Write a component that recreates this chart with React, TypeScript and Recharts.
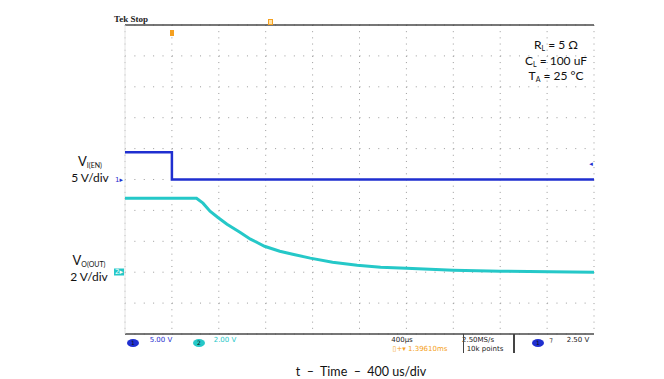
import {
  ComposedChart,
  Line,
  XAxis,
  YAxis,
  CartesianGrid,
  ReferenceLine,
} from "recharts";

// horizontal: 400 us/div, 10 divisions (values in ms)
const timeTicks = [0, 0.4, 0.8, 1.2, 1.6, 2.0, 2.4, 2.8, 3.2, 3.6, 4.0];
// vertical: ch1 5 V/div, 10 divisions, ground at center
const ch1Ticks = [-25, -20, -15, -10, -5, 0, 5, 10, 15, 20, 25];

// CH1  V_I(EN)
const enTime = [0, 0.4, 0.4, 4.0];
const enVolts = [4.4, 4.4, 0, 0];

// CH2  V_O(OUT)
const outTime = [
  0, 0.61, 0.665, 0.725, 0.79, 0.87, 0.98, 1.07, 1.19, 1.32, 1.43, 1.58,
  1.77, 1.98, 2.18, 2.4, 2.8, 3.2, 3.62, 4.0,
];
const outVolts = [
  4.79, 4.79, 4.47, 3.95, 3.56, 3.11, 2.59, 2.14, 1.68, 1.36, 1.16, 0.91,
  0.65, 0.45, 0.32, 0.26, 0.13, 0.06, 0.03, 0.0,
];

const enData = enTime.map((t, i) => ({ t, v: enVolts[i] }));
const outData = outTime.map((t, i) => ({ t, v: outVolts[i] }));

const BLUE = "#1f2fd0";
const CYAN = "#25c8c8";
const ORANGE = "#f5a020";
const FRAME = "#4a4a4a";

const Txt = ({
  x,
  y,
  children,
  style,
}: {
  x: number;
  y: number;
  children: React.ReactNode;
  style?: React.CSSProperties;
}) => (
  <div
    style={{
      position: "absolute",
      left: x,
      top: y,
      transform: "translate(-50%, -50%)",
      whiteSpace: "nowrap",
      lineHeight: 1,
      ...style,
    }}
  >
    {children}
  </div>
);

const note: React.CSSProperties = {
  fontFamily: "Lato, 'Open Sans', sans-serif",
  fontSize: 12,
  color: "#111",
};
const sub: React.CSSProperties = { fontSize: 7, verticalAlign: -2 };
const small: React.CSSProperties = {
  fontFamily: "'DejaVu Sans', sans-serif",
  fontSize: 7,
};

const Badge = ({ n, bg }: { n: string; bg: string }) => (
  <span
    style={{
      display: "inline-block",
      width: 12,
      height: 8,
      borderRadius: "50%",
      background: bg,
      color: "#111",
      fontSize: 6,
      textAlign: "center",
      lineHeight: "8px",
      fontFamily: "'DejaVu Sans', sans-serif",
    }}
  >
    {n}
  </span>
);

export default function App() {
  return (
    <div
      style={{
        position: "absolute",
        left: 0,
        top: 0,
        width: 664,
        height: 379,
        background: "#fff",
      }}
    >
      <ComposedChart
        width={664}
        height={379}
        margin={{ top: 25, right: 70, bottom: 45, left: 125 }}
      >
        <XAxis
          xAxisId="main"
          dataKey="t"
          type="number"
          domain={[0, 4]}
          ticks={timeTicks}
          hide
        />
        <YAxis
          yAxisId="ch1"
          type="number"
          domain={[-25, 25]}
          ticks={ch1Ticks}
          hide
        />
        <YAxis yAxisId="ch2" type="number" domain={[-4, 16]} hide />

        {/* dotted scope graticule, 5 dots per division */}
        <CartesianGrid
          xAxisId="main"
          yAxisId="ch1"
          vertical={false}
          stroke="#9a9a9a"
          strokeDasharray="1 8.38"
        />
        <CartesianGrid
          xAxisId="main"
          yAxisId="ch1"
          horizontal={false}
          stroke="#9a9a9a"
          strokeDasharray="1 5.18"
        />
        <ReferenceLine
          xAxisId="main"
          yAxisId="ch1"
          y={25}
          stroke={FRAME}
          strokeWidth={1.5}
        />
        <ReferenceLine
          xAxisId="main"
          yAxisId="ch1"
          y={-25}
          stroke={FRAME}
          strokeWidth={1.5}
        />
        <ReferenceLine
          xAxisId="main"
          yAxisId="ch1"
          x={0}
          stroke="#e4e4e4"
          strokeWidth={1}
        />

        <Line
          data={outData}
          xAxisId="main"
          yAxisId="ch2"
          dataKey="v"
          type="linear"
          stroke={CYAN}
          strokeWidth={3}
          dot={false}
          isAnimationActive={false}
        />
        <Line
          data={enData}
          xAxisId="main"
          yAxisId="ch1"
          dataKey="v"
          type="linear"
          stroke={BLUE}
          strokeWidth={2.5}
          dot={false}
          isAnimationActive={false}
        />
      </ComposedChart>

      {/* scope screen decorations */}
      <Txt
        x={131}
        y={19}
        style={{
          fontFamily: "'Liberation Serif', serif",
          fontWeight: "bold",
          fontSize: 9,
          color: "#222",
        }}
      >
        Tek Stop
      </Txt>
      <div
        style={{
          position: "absolute",
          left: 170,
          top: 30,
          width: 4,
          height: 6,
          background: ORANGE,
        }}
      />
      <div
        style={{
          position: "absolute",
          left: 268,
          top: 19,
          width: 3,
          height: 4,
          border: `1px solid ${ORANGE}`,
          background: "#ffe2a8",
        }}
      />

      <Txt x={556} y={45} style={note}>
        R<span style={sub}>L</span> = 5 Ω
      </Txt>
      <Txt x={556} y={61} style={note}>
        C<span style={sub}>L</span> = 100 uF
      </Txt>
      <Txt x={556} y={76} style={note}>
        T<span style={sub}>A</span> = 25 °C
      </Txt>

      <Txt x={90} y={162} style={{ ...note, fontSize: 13 }}>
        V<span style={sub}>I(EN)</span>
      </Txt>
      <Txt x={90} y={178} style={note}>
        5 V/div
      </Txt>
      <Txt x={89} y={261} style={{ ...note, fontSize: 13 }}>
        V<span style={sub}>O(OUT)</span>
      </Txt>
      <Txt x={89} y={277} style={note}>
        2 V/div
      </Txt>

      <Txt x={119} y={180} style={{ ...small, color: BLUE }}>
        1▸
      </Txt>
      <Txt
        x={119}
        y={272}
        style={{ ...small, color: "#fff", background: CYAN, padding: "0 1px" }}
      >
        2▸
      </Txt>
      <Txt x={591} y={164} style={{ ...small, color: BLUE }}>
        ◂
      </Txt>

      {/* status bar */}
      <Txt x={133} y={340}>
        <Badge n="1" bg={BLUE} />
      </Txt>
      <Txt x={161} y={340} style={{ ...small, color: BLUE }}>
        5.00 V
      </Txt>
      <Txt x={199} y={340}>
        <Badge n="2" bg={CYAN} />
      </Txt>
      <Txt x={225} y={340} style={{ ...small, color: CYAN }}>
        2.00 V
      </Txt>
      <Txt x={402} y={340} style={{ ...small, color: "#222" }}>
        400µs
      </Txt>
      <Txt x={420} y={349} style={{ ...small, color: ORANGE }}>
        ▯+▾ 1.39610ms
      </Txt>
      <Txt x={478} y={340} style={{ ...small, color: "#222" }}>
        2.50MS/s
      </Txt>
      <Txt x={485} y={349} style={{ ...small, color: "#222" }}>
        10k points
      </Txt>
      <div
        style={{
          position: "absolute",
          left: 463,
          top: 334,
          width: 49,
          height: 19,
          borderLeft: "1px solid #444",
          borderRight: "2px double #444",
        }}
      />
      <Txt x={538} y={340}>
        <Badge n="1" bg={BLUE} />
      </Txt>
      <Txt x={551} y={340} style={{ ...small, color: "#222" }}>
        ⁊
      </Txt>
      <Txt x={578} y={340} style={{ ...small, color: "#222" }}>
        2.50 V
      </Txt>

      <Txt x={361} y={372} style={{ ...note, fontSize: 12.5 }}>
        t &nbsp;–&nbsp; Time &nbsp;–&nbsp; 400 us/div
      </Txt>
    </div>
  );
}
